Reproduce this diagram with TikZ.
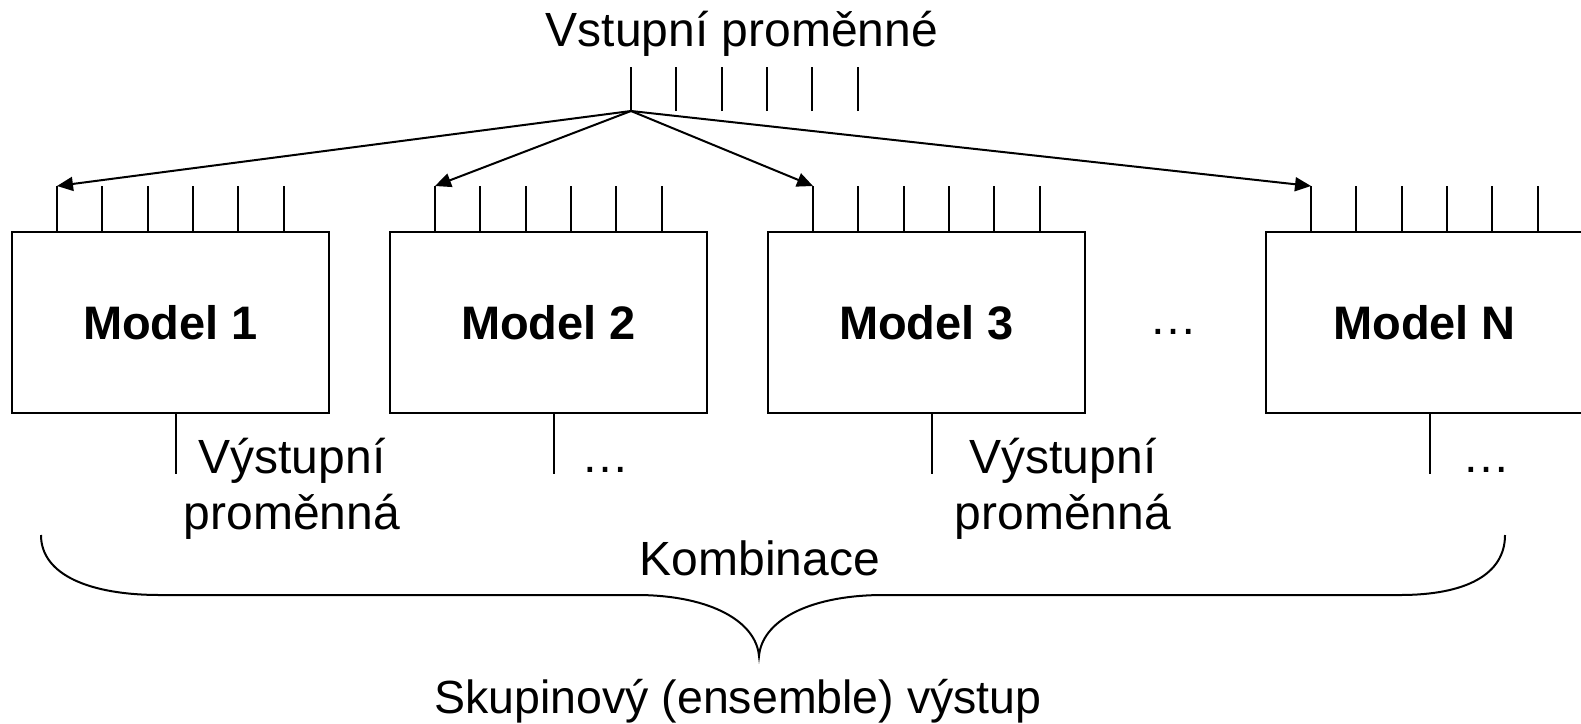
\documentclass[tikz,border=0pt]{standalone}
\usepackage{fontspec}
\setmainfont{Liberation Sans}
\usetikzlibrary{arrows.meta}
\begin{document}
\begin{tikzpicture}[x=1pt,y=-1pt,
  wire/.style={line width=2pt},
  arr/.style={line width=2pt,-{Triangle[length=16pt,width=14pt]}},
  modelbox/.style={draw,line width=2pt,minimum width=317pt,minimum height=181pt,inner sep=0pt,font=\bfseries\fontsize{47}{56}\selectfont},
  txt/.style={inner sep=0pt,align=center,font=\fontsize{48}{56}\selectfont}]
  \useasboundingbox (0,0) rectangle (1581,723);
  \node[txt,anchor=base] (vstup) at (742,46) {Vstupní proměnné};
  \coordinate (hub) at (631,111);
  \foreach \k in {0,...,5} {\draw[wire] ([xshift=\k*45.3pt]hub) -- ++(0,-44);}
  \foreach \i/\x in {1/170.5,2/548.5,3/926.5,N/1424.5} {
    \node[modelbox] (m\i) at (\x,322.5) {Model \i};
    \foreach \k in {0,...,5} {\draw[wire] ([xshift=46pt+\k*45.3pt]m\i.north west) -- ++(0,-45);}
    \coordinate (in\i) at ([xshift=46pt,yshift=45pt]m\i.north west);
    \coordinate (out\i) at ([xshift=165pt,yshift=-60pt]m\i.south west);
    \draw[wire] ([xshift=165pt]m\i.south west) -- (out\i);
    \draw[arr] (hub) -- (in\i);
  }
  \node[txt,anchor=base] (dots) at (1173,334) {…};
  \node[txt] (vyst1) at (292,489) {Výstupní\\proměnná};
  \node[txt,anchor=base] (vyst2) at (605,472) {…};
  \node[txt] (vyst3) at (1063,489) {Výstupní\\proměnná};
  \node[txt,anchor=base] (vystN) at (1486,472) {…};
  \draw[wire] (41,535) .. controls (41,575) and (90,595) .. (160,595) -- (640,595)
    .. controls (712,596) and (756,622) .. (759,656)
    .. controls (762,622) and (806,596) .. (880,595) -- (1400,595)
    .. controls (1465,595) and (1505,575) .. (1505,535);
  \node[txt,anchor=base] (komb) at (760,575) {Kombinace};
  \node[txt,anchor=base,font=\fontsize{46.5}{56}\selectfont] (ens) at (738,713) {Skupinový (ensemble) výstup};
\end{tikzpicture}
\end{document}
